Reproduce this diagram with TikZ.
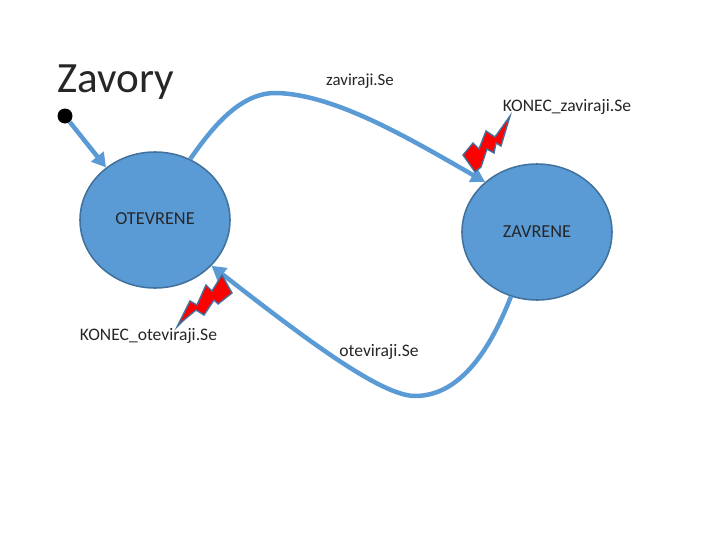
\documentclass[tikz,border=0pt]{standalone}
\usepackage{fontspec}
\setmainfont{Carlito}
\usetikzlibrary{arrows.meta,bending,shapes.geometric}
\definecolor{stateblue}{HTML}{5B9BD5}
\definecolor{stateedge}{HTML}{41719C}
\tikzset{
  statenode/.style={draw=stateedge,fill=stateblue,line width=1.1pt,ellipse,inner sep=0pt,minimum width=150*0.25mm,minimum height=136*0.25mm},
  textlabel/.style={inner sep=0pt,text=black!85,font=\fontsize{12.5pt}{14pt}\selectfont},
  statelabel/.style={inner sep=0pt,text=black!85,font=\fontsize{13pt}{14pt}\selectfont},
  transition/.style={draw=stateblue,line width=3.2pt,-{Triangle[length=10pt,width=11pt,flex=1]}},
  bolt/.style={draw=stateedge,fill=red,line width=1pt,line join=miter}
}
\begin{document}
\begin{tikzpicture}[x=0.25mm,y=-0.25mm]
\useasboundingbox (0, 0) rectangle (720, 540);

\node (otevrene) at (155, 220) [statenode] {};
\node (zavrene) at (537, 232) [statenode] {};
\node (otevreneText) at (155, 219) [statelabel] {OTEVRENE};
\node (zavreneText) at (537, 232) [statelabel] {ZAVRENE};
\node (init) at (65, 116) [circle,fill=black,inner sep=0pt,minimum size=15*0.25mm] {};

\node (title) at (115.5, 82) [inner sep=0pt,text=black!85,font=\fontsize{30.7pt}{36pt}\selectfont] {Zavory};
\node (zavirajiSe) at (360, 81) [inner sep=0pt,text=black!85,font=\fontsize{12pt}{14pt}\selectfont] {zaviraji.Se};
\node (konecZaviraji) at (567, 107) [textlabel] {KONEC\_zaviraji.Se};
\node (konecOteviraji) at (148.5, 336) [textlabel] {KONEC\_oteviraji.Se};
\node (otevirajiSe) at (379, 352) [textlabel] {oteviraji.Se};

\draw [transition] (init) -- (otevrene.133);
\draw [transition] (otevrene.60) .. controls (212, 128) and (240, 92) .. (277, 93) .. controls (340, 95) and (420, 145) .. (zavrene.136);
\draw [transition] (zavrene.-112) .. controls (490, 350) and (460, 396) .. (415, 396) .. controls (380, 396) and (300, 335) .. (otevrene.-39);

\filldraw [bolt] (510, 116) -- (501, 146) -- (496, 143) -- (494, 153) -- (487, 149) -- (481, 167) -- (475, 172) -- (463, 155) -- (473, 143) -- (479, 149) -- (486, 131) -- (495, 137) -- cycle;
\filldraw [bolt] (177, 327) -- (190, 301) -- (197, 305) -- (206, 285) -- (212, 291) -- (222, 275) -- (232, 293) -- (218, 304) -- (214, 300) -- (204, 315) -- (196, 310) -- (184, 320) -- cycle;
\end{tikzpicture}
\end{document}
